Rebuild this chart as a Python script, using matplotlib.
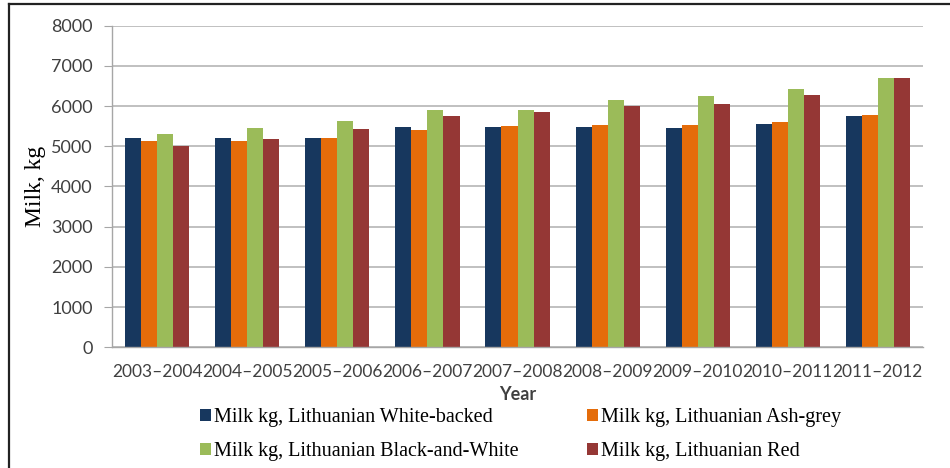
import numpy as np
import matplotlib
matplotlib.use("Agg")
import matplotlib.pyplot as plt
from matplotlib.lines import Line2D

years = ["2003–2004", "2004–2005", "2005–2006", "2006–2007", "2007–2008",
         "2008–2009", "2009–2010", "2010–2011", "2011–2012"]
white_backed = [5200, 5200, 5200, 5490, 5490, 5490, 5465, 5565, 5765]
ash_grey = [5125, 5125, 5215, 5400, 5515, 5530, 5530, 5605, 5790]
black_white = [5305, 5465, 5630, 5905, 5905, 6155, 6260, 6420, 6700]
red = [5005, 5175, 5430, 5745, 5855, 6005, 6060, 6285, 6700]

series = [
    ("Milk kg, Lithuanian White-backed", white_backed, "#17375e"),
    ("Milk kg, Lithuanian Ash-grey", ash_grey, "#e46c0a"),
    ("Milk kg, Lithuanian Black-and-White", black_white, "#9bbb59"),
    ("Milk kg, Lithuanian Red", red, "#953735"),
]

fig = plt.figure(figsize=(9.5, 4.68), dpi=100)
ax = fig.add_axes([0.1182, 0.2579, 0.8531, 0.6872])

x = np.arange(len(years))
w = 0.178
bars = []
for i, (label, vals, color) in enumerate(series):
    bars.append(ax.bar(x + (i - 1.5) * w, vals, width=w, color=color,
                       label=label, zorder=3))

ax.set_xlim(-0.5, len(years) - 0.5)
ax.set_ylim(0, 8000)
ax.set_yticks(np.arange(0, 8001, 1000))
ax.set_xticks(x)
ax.set_xticklabels(years)
ax.grid(axis="y", color="#c0c0c0", linewidth=1.4, zorder=0)

for side in ["top", "right"]:
    ax.spines[side].set_visible(False)
for side in ["left", "bottom"]:
    ax.spines[side].set_color("#a6a6a6")
    ax.spines[side].set_linewidth(1.0)
ax.spines["bottom"].set_zorder(4)

ax.tick_params(axis="y", direction="out", length=6, color="#a6a6a6",
               labelsize=13, labelcolor="#404040", pad=8)
ax.tick_params(axis="x", length=0, labelsize=12.5, labelcolor="#404040", pad=12)
for lbl in ax.get_xticklabels() + ax.get_yticklabels():
    lbl.set_fontfamily("Lato")

ax.set_xlabel("Year", fontsize=13, fontfamily="Lato", fontweight="bold",
              color="#404040", labelpad=4)
ax.set_ylabel("Milk, kg", fontsize=17, fontfamily="Liberation Serif",
              color="black", labelpad=4)

# legend filled row by row: two entries per row
order = [0, 2, 1, 3]
fig.legend([bars[k] for k in order], [series[k][0] for k in order],
           loc="center left", bbox_to_anchor=(0.21, 0.072), ncol=2,
           frameon=False, prop={"family": "Liberation Serif", "size": 14.5},
           handlelength=0.55, handleheight=0.55, handletextpad=0.15,
           columnspacing=3.4, labelspacing=0.75, borderaxespad=0,
           borderpad=0)

# frame lines along the top and left edges
fig.add_artist(Line2D([9 / 950, 1.0], [1 - 3.7 / 468] * 2, color="#222222",
                      linewidth=1.6, transform=fig.transFigure))
fig.add_artist(Line2D([9 / 950] * 2, [0, 1 - 3.7 / 468], color="#222222",
                      linewidth=1.6, transform=fig.transFigure))

fig.savefig("out.png", dpi=100)
